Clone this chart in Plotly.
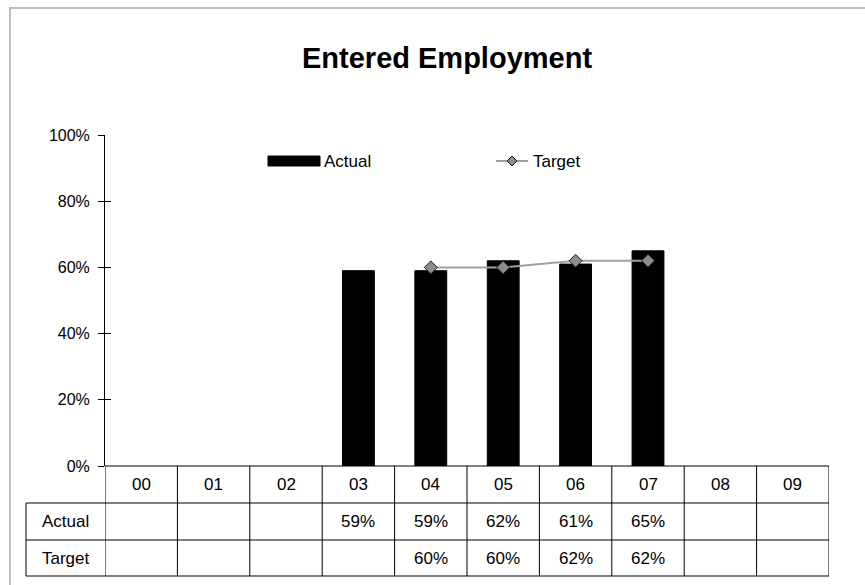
import plotly.graph_objects as go

years = ["00", "01", "02", "03", "04", "05", "06", "07", "08", "09"]
actual = [None, None, None, 0.59, 0.59, 0.62, 0.61, 0.65, None, None]
target = [None, None, None, None, 0.60, 0.60, 0.62, 0.62, None, None]
row_names = ["Actual", "Target"]
y_ticks = [0, 0.2, 0.4, 0.6, 0.8, 1.0]

W, H = 865, 585
L, R, T, B = 105, 36, 135, 119
PW, PH = W - L - R, H - T - B

def px(X):
    return (X - L) / PW

def py(Y):
    return (H - B - Y) / PH

FONT = "Arial, Liberation Sans, sans-serif"
LINE = "#000000"

fig = go.Figure()
fig.add_trace(go.Bar(x=years, y=actual, name="Actual", width=0.44,
                     marker=dict(color="#000000", line=dict(color="#000000", width=1)),
                     showlegend=False))
fig.add_trace(go.Scatter(x=years, y=target, name="Target", mode="lines+markers",
                         line=dict(color="#a0a0a0", width=2),
                         marker=dict(symbol="diamond", size=10, color="#8c8c8c",
                                     line=dict(color="#202020", width=1)),
                         showlegend=False))
fig.add_trace(go.Scatter(x=[years[0]], y=[0], yaxis="y2", mode="markers",
                         marker=dict(opacity=0), showlegend=False, hoverinfo="skip"))

shapes = []
annotations = []

# outer border
shapes.append(dict(type="rect", xref="paper", yref="paper",
                   x0=px(10), x1=px(880), y0=py(600), y1=py(8),
                   line=dict(color="#c0c0c0", width=2), layer="below"))

row_tops = [466, 503, 540, 576]
table_left = 26
xlo = -0.5
xhi = len(years) - 0.5
for i, yy in enumerate(row_tops):
    shapes.append(dict(type="line", xref="x", yref="paper",
                       x0=xlo, x1=xhi, y0=py(yy), y1=py(yy),
                       line=dict(color=LINE, width=1)))
    if i >= 1:
        shapes.append(dict(type="line", xref="paper", yref="paper",
                           x0=px(table_left), x1=0, y0=py(yy), y1=py(yy),
                           line=dict(color=LINE, width=1)))
for i in range(len(years) + 1):
    shapes.append(dict(type="line", xref="x", yref="paper",
                       x0=xlo + i, x1=xlo + i, y0=py(row_tops[0]), y1=py(row_tops[-1]),
                       line=dict(color=LINE, width=1)))
shapes.append(dict(type="line", xref="paper", yref="paper",
                   x0=px(table_left), x1=px(table_left), y0=py(row_tops[1]), y1=py(row_tops[-1]),
                   line=dict(color=LINE, width=1)))

TXT = dict(family=FONT, size=17, color="#000")
for yr in years:
    annotations.append(dict(x=yr, y=py((row_tops[0] + row_tops[1]) / 2), xref="x", yref="paper",
                            text=yr, showarrow=False, font=TXT,
                            xanchor="center", yanchor="middle"))
rows = [actual, target]
for k, (name, vals) in enumerate(zip(row_names, rows)):
    cy = (row_tops[k + 1] + row_tops[k + 2]) / 2
    annotations.append(dict(x=px((table_left + L) / 2), y=py(cy), xref="paper", yref="paper",
                            text=name, showarrow=False, font=TXT,
                            xanchor="center", yanchor="middle"))
    for yr, v in zip(years, vals):
        if v is not None:
            annotations.append(dict(x=yr, y=py(cy), xref="x", yref="paper",
                                    text=f"{round(v * 100)}%", showarrow=False, font=TXT,
                                    xanchor="center", yanchor="middle"))

annotations.append(dict(x=px(447), y=py(58), xref="paper", yref="paper",
                        text="<b>Entered Employment</b>", showarrow=False,
                        font=dict(family=FONT, size=29, color="#000"),
                        xanchor="center", yanchor="middle"))

# legend
LY = 161
shapes.append(dict(type="rect", xref="paper", yref="paper",
                   x0=px(268), x1=px(320), y0=py(LY + 5), y1=py(LY - 5),
                   fillcolor="#000", line=dict(color="#000", width=1)))
annotations.append(dict(x=px(322), y=py(LY), xref="paper", yref="paper", text="Actual",
                        showarrow=False, font=TXT, xanchor="left", yanchor="middle"))
shapes.append(dict(type="line", xref="paper", yref="paper",
                   x0=px(496), x1=px(528), y0=py(LY), y1=py(LY),
                   line=dict(color="#a0a0a0", width=2)))
d = 5
cx = 512
path = (f"M {px(cx - d)} {py(LY)} L {px(cx)} {py(LY - d)} "
        f"L {px(cx + d)} {py(LY)} L {px(cx)} {py(LY + d)} Z")
shapes.append(dict(type="path", xref="paper", yref="paper", path=path,
                   fillcolor="#8c8c8c", line=dict(color="#202020", width=1)))
annotations.append(dict(x=px(531), y=py(LY), xref="paper", yref="paper", text="Target",
                        showarrow=False, font=TXT, xanchor="left", yanchor="middle"))

fig.update_layout(
    width=W, height=H,
    margin=dict(l=L, r=R, t=T, b=B),
    paper_bgcolor="white", plot_bgcolor="white",
    font=dict(family=FONT, size=16, color="#000"),
    xaxis=dict(type="category", range=[xlo, xhi], showticklabels=False, ticks="",
               showline=False, showgrid=False, zeroline=False, fixedrange=True),
    yaxis=dict(range=[0, 1], tickvals=y_ticks, tickformat=".0%", ticks="outside",
               ticklen=6, tickcolor=LINE, showline=True, linecolor=LINE, linewidth=1,
               showgrid=False, zeroline=False, ticklabelstandoff=5,
               tickfont=dict(family=FONT, size=16, color="#000")),
    yaxis2=dict(range=[0, 1], tickvals=y_ticks, overlaying="y", side="left",
                ticks="inside", ticklen=6, tickcolor=LINE, showticklabels=False,
                showline=False, showgrid=False, zeroline=False),
    shapes=shapes,
    annotations=annotations,
    showlegend=False,
)

fig.write_html("out.html", config={"displayModeBar": False},
               post_script="document.body.style.margin='0px';")
